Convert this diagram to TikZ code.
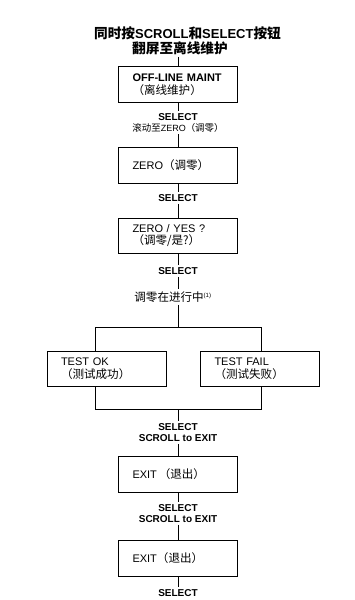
\documentclass[tikz,border=0pt]{standalone}
\usepackage{fontspec}
\setmainfont{Liberation Sans}
\newfontfamily\cjk[Scale=1.05]{Noto Sans CJK SC}
\newcommand{\zh}[1]{{\cjk #1}}
\begin{document}
\begin{tikzpicture}[x=1pt,y=-1pt, line width=0.8pt,
  box/.style={draw, line width=1pt, minimum width=119pt, minimum height=36pt, text width=91pt, inner xsep=14pt, inner ysep=0pt, align=left, font=\fontsize{11}{12.5}\selectfont},
  lbl/.style={align=center, inner sep=2pt, font=\bfseries\fontsize{10}{11}\selectfont}]
\useasboundingbox (0,0) rectangle (354,600);
\node[align=center, inner sep=2pt, font=\bfseries\fontsize{13}{15}\selectfont] (title) at (180,40.5) {\hspace*{15pt}\zh{同时按}SCROLL\zh{和}SELECT\zh{按钮}\\\zh{翻屏至离线维护}};
\node[box, font=\bfseries\fontsize{11}{12.5}\selectfont] (b1) at (178,84.5) {OFF-LINE MAINT\\{\mdseries\zh{（离线维护）}}};
\node[lbl] (s1) at (178,122.5) {SELECT\\{\mdseries\fontsize{9}{10}\selectfont\zh{滚动至}ZERO\zh{（调零）}}};
\node[box] (b2) at (178,165) {ZERO\zh{（调零）}};
\node[lbl] (s2) at (178,198) {SELECT};
\node[box, minimum height=35pt] (b3) at (178,235.5) {ZERO / YES ?\\\zh{（调零/是?）}};
\node[lbl] (s3) at (178,271) {SELECT};
\node[inner sep=2pt, font=\fontsize{11}{12}\selectfont] (pr) at (173,297) {\zh{调零在进行中}\textsuperscript{\fontsize{6}{7}\selectfont(1)}};
\coordinate (split) at (178,327);
\coordinate (tl) at (95,327);
\coordinate (tr) at (261,327);
\coordinate (bl) at (95,409);
\coordinate (br) at (261,409);
\coordinate (join) at (178,409);
\node[box, minimum height=35pt] (ok) at (106.5,368.5) {TEST OK\\\zh{（测试成功）}};
\node[box, minimum height=35pt] (fail) at (260,368.5) {TEST FAIL\\\zh{（测试失败）}};
\node[lbl] (s4) at (178,432.5) {SELECT\\SCROLL to EXIT};
\node[box] (b4) at (178,474) {EXIT\,\zh{（退出）}};
\node[lbl] (s5) at (178,513.5) {SELECT\\SCROLL to EXIT};
\node[box] (b5) at (178,558) {EXIT\zh{（退出）}};
\node[lbl] (s6) at (178,593) {SELECT};
\draw (title.south -| b1.north) -- (b1.north);
\draw (b1.south) -- (s1.north);
\draw (s1.south) -- (b2.north);
\draw (b2.south) -- (s2.north);
\draw (s2.south) -- (b3.north);
\draw (b3.south) -- (s3.north);
\draw (s3.south) -- (s3.south |- pr.north);
\draw (s3.south |- pr.south) -- (split);
\draw (tl) -- (tr);
\draw (tl) -- (tl |- ok.north);
\draw (tr) -- (tr |- fail.north);
\draw (ok.south -| bl) -- (bl) -- (br) -- (fail.south -| br);
\draw (join) -- (s4.north);
\draw (s4.south) -- (b4.north);
\draw (b4.south) -- (s5.north);
\draw (s5.south) -- (b5.north);
\draw (b5.south) -- (s6.north);
\end{tikzpicture}
\end{document}
